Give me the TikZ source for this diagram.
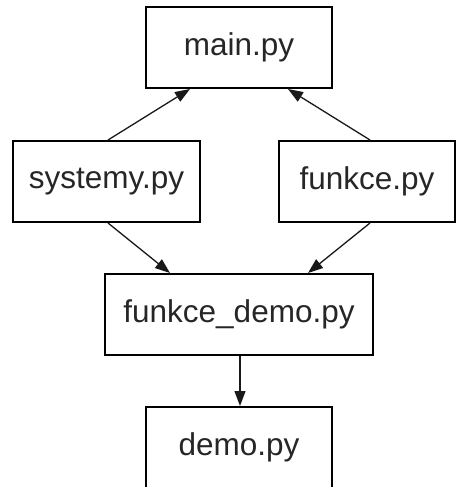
\documentclass[tikz,border=0pt]{standalone}
\usepackage{fontspec}
\setmainfont{Liberation Sans}
\usepackage{tikz}
\usetikzlibrary{
  arrows.meta,
  positioning
}

\begin{document}
\begin{tikzpicture}[
      x=1pt,y=-1pt,
      module/.style={
         rectangle,
         draw=black,
         line width=2pt,
         inner sep=0pt,
         minimum height=81pt,
         minimum width=186pt,
         text=black!85,
         font=\fontsize{31.5}{36}\selectfont
      },
      >={Triangle[length=15pt,width=11pt]},
      tip/.style={->,line width=1.3pt,draw=black!90},
    ]
    \useasboundingbox (0,0) rectangle (456,487);
    \node (main)   [module] at (239,47.5) {main.py};
    \node (systemy) [module, minimum width=187pt] at (106.5,181.5) {systemy.py};
    \node (funkce) [module, minimum width=176pt] at (367,181.5) {funkce.py};
    \node (fdemo)  [module, minimum width=268pt] at (239,314.5) {funkce\_demo.py};
    \node (demo)   [module] at (239,447.5) {demo.py};
    % imports up to main
    \draw [tip] ([xshift=1.5pt]systemy.north) -- ([xshift=-49pt]main.south);
    \draw [tip] ([xshift=3pt]funkce.north) -- ([xshift=49pt]main.south);
    % imports down to the demo module
    \draw [tip] ([xshift=1.5pt]systemy.south) -- ([xshift=-69pt]fdemo.north);
    \draw [tip] ([xshift=3pt]funkce.south) -- ([xshift=69pt]fdemo.north);
    \draw [tip] ([xshift=1pt]fdemo.south) -- ([xshift=1pt]demo.north);
\end{tikzpicture}
\end{document}
